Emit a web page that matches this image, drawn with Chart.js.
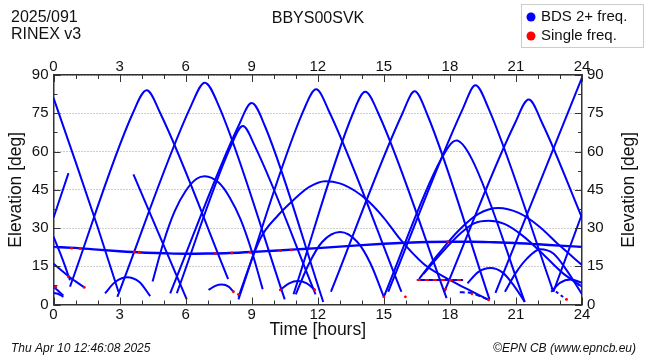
<!DOCTYPE html>
<html>
<head>
<meta charset="utf-8">
<script src="https://cdn.jsdelivr.net/npm/chart.js@4.4.1/dist/chart.umd.min.js"></script>
<style>
  body { margin: 0; background: #fff; }
  #wrap { width: 650px; height: 360px; }
</style>
</head>
<body>
<div id="wrap"><canvas id="elevChart" width="650" height="360"></canvas></div>
<script>
// axis ticks
const hourTicks = [0, 3, 6, 9, 12, 15, 18, 21, 24];
const elevTicks = [0, 15, 30, 45, 60, 75, 90];

// satellite tracks, [hour, elevation deg]
const geoTrack = [[0,22.6],[1,22.2],[2,21.5],[3,20.9],[4,20.4],[5,20.1],[6,19.9],[7,20],[8,20.2],[9,20.6],[10,21.1],[11,21.6],[12,22.1],[13,22.7],[14,23.3],[15,23.8],[16,24.2],[17,24.5],[18,24.6],[19,24.6],[20,24.4],[21,24.1],[22,23.6],[23,23.1],[24,22.6]];
const trk01 = [[0,81],[1,56],[2,30.5],[2.95,5]];
const trk02 = [[0,34],[0.68,51.5]];
const trk03 = [[0,26.6],[0.4,18],[0.75,9.5]];
const trk04 = [[0,16],[0.7,11],[1.4,6.7]];
const trk05 = [[0,7],[0.2,5.5],[0.45,3.5]];
const trk06 = [[0,4.5],[0.2,4.2],[0.45,3]];
const trk07 = [[0.75,7],[3.6,75],[4.23,84],[4.85,75],[7.93,10]];
const trk08 = [[2.9,3],[6.25,78],[6.87,87],[7.5,78],[10.5,2]];
const trk09 = [[5.3,4.4],[8.4,70],[9.0,79],[9.6,70],[12.25,1]];
const trk10 = [[5.6,4.4],[8.05,62],[8.6,70],[9.15,62],[11.9,4]];
const trk11 = [[4.5,9],[5.0,24.5],[5.5,36.5],[6.0,44.5],[6.5,49.3],[6.87,50.3],[7.5,47.8],[8.0,42],[8.5,33.3],[9.0,21],[9.5,6]];
const trk12 = [[8.4,3],[9.4,26],[10.2,35],[10.9,41],[11.6,46],[12.34,48.3],[13.0,47.5],[13.7,44.5],[14.3,40.5],[15.0,34],[15.75,25.5],[16.8,16],[17.8,10.5],[18.8,6],[19.76,1.8]];
const trk13 = [[11.0,4],[11.6,16],[12.2,24.5],[13.02,28.4],[13.8,24.5],[14.4,16],[15.0,3]];
const trk14 = [[8.4,2],[11.35,76],[11.93,84.4],[12.5,76],[15.8,5]];
const trk15 = [[10.9,4],[13.6,75],[14.16,83.4],[14.75,75],[17.85,2.5]];
const trk16 = [[12.6,5],[15.85,75],[16.4,83.6],[16.95,75],[19.8,2]];
const trk17 = [[15.0,3],[17.6,57],[18.3,64.3],[19.0,57],[21.4,1]];
const trk18 = [[15.2,5],[18.6,77],[19.16,86],[19.75,77],[22.7,5]];
const trk19 = [[17.75,5],[20.95,71],[21.58,80.4],[22.2,71],[24,34]];
const trk20 = [[20.07,4.6],[24,89]];
const trk21 = [[22.7,5],[24,35.5]];
const trk22 = [[16.6,10],[17.5,20],[18.4,29],[19.3,35.5],[20.2,37.8],[21.1,36],[22.0,31],[23.0,23],[24,15.5]];
const trk23 = [[16.8,12],[17.6,20],[18.5,28],[19.1,31.8],[19.76,32.8],[20.5,31.5],[21.3,27],[22.2,20],[23.1,12.5],[24,7]];
const trk24 = [[20.5,5],[21.0,12.5],[21.5,18],[22.1,21.7],[22.7,20],[23.3,13.5],[24,4]];
const trk25 = [[18.8,8.3],[19.3,12.8],[19.84,14.3],[20.4,12.5],[20.9,7.5],[21.4,1]];
const trk26 = [[2.34,4.4],[2.8,8.8],[3.33,10.7],[3.9,8.8],[4.39,3.3]];
const trk27 = [[7.04,5.7],[7.35,7.3],[7.64,7.8],[7.95,7],[8.17,5]];
const trk28 = [[10.3,5.7],[10.7,8.3],[11.1,9.2],[11.5,8.3],[11.9,5.5]];
const trk29 = [[22.6,5],[23.0,8.5],[23.5,9.8],[24,8.5]];
const trk30 = [[3.63,51],[6.05,2]];
const trk31 = [[16.5,9.6],[18.6,9.6]];
// broken (dashed) pieces
const gapTrk1 = [[18.45,4.8],[18.9,4.6],[19.3,3.5],[19.76,1.8]];
const gapTrk2 = [[22.6,6.5],[22.9,4.5],[23.3,2]];
// single frequency epochs
const singleDash = [[16.5,9.6],[18.6,9.6]];
const singleDots = [[0.1,6.8],[0.67,10.9],[1.4,6.7],[0.82,22.1],[1.2,21.9],[3.67,20.6],[3.9,20.5],[7.35,20],[8.1,20.2],[8.92,20.5],[8.17,5],[8.4,4],[10.3,5.7],[10.3,21.1],[10.8,21.4],[11.85,5.8],[15.0,3],[15.98,3],[17.8,6],[17.9,24.6],[19.0,4.2],[19.76,1.8],[23.3,2]];

const blueTracks = [trk01, trk02, trk03, trk04, trk05, trk06, trk07, trk08, trk09, trk10,
  trk11, trk12, trk13, trk14, trk15, trk16, trk17, trk18, trk19, trk20,
  trk21, trk22, trk23, trk24, trk25, trk26, trk27, trk28, trk29, trk30, trk31];

const BLUE = '#0000ff';
const RED = '#ff0000';

function toXY(pts) {
  return pts.map(p => ({ x: p[0], y: p[1] }));
}

function trackSet(pts, color, width, dash) {
  return {
    data: toXY(pts),
    showLine: true,
    borderColor: color,
    borderWidth: width,
    borderDash: dash || [],
    pointRadius: 0,
    cubicInterpolationMode: 'monotone',
    xAxisID: 'x',
    yAxisID: 'y'
  };
}

const datasets = [];
datasets.push(trackSet(geoTrack, BLUE, 2.4));
blueTracks.forEach(t => datasets.push(trackSet(t, BLUE, 2)));
datasets.push(trackSet(gapTrk1, BLUE, 2, [5, 3]));
datasets.push(trackSet(gapTrk2, BLUE, 2, [3, 3]));
// red marks go on top (lower order is drawn last)
const redDash = trackSet(singleDash, RED, 2, [4, 4]);
redDash.order = -1;
datasets.push(redDash);
datasets.push({
  data: toXY(singleDots),
  showLine: false,
  pointRadius: 1.4,
  pointBackgroundColor: RED,
  pointBorderWidth: 0,
  order: -2,
  xAxisID: 'x',
  yAxisID: 'y'
});

const FONT = '"Liberation Sans", Arial, sans-serif';

// inner tick marks, titles, legend and footer
const decorations = {
  id: 'decorations',
  afterDraw(chart) {
    const ctx = chart.ctx;
    const a = chart.chartArea;
    const xs = chart.scales.x;
    const ys = chart.scales.y;
    ctx.save();
    ctx.strokeStyle = '#333';
    ctx.lineWidth = 1;
    for (let h = 0; h <= 24; h++) {
      const px = Math.round(xs.getPixelForValue(h)) + 0.5;
      const len = h % 3 === 0 ? 7 : 4;
      ctx.beginPath();
      ctx.moveTo(px, a.bottom); ctx.lineTo(px, a.bottom - len);
      ctx.moveTo(px, a.top); ctx.lineTo(px, a.top + len);
      ctx.stroke();
    }
    for (let e = 0; e <= 90; e += 7.5) {
      const py = Math.round(ys.getPixelForValue(e)) + 0.5;
      const len = e % 15 === 0 ? 7 : 4;
      ctx.beginPath();
      ctx.moveTo(a.left, py); ctx.lineTo(a.left + len, py);
      ctx.moveTo(a.right, py); ctx.lineTo(a.right - len, py);
      ctx.stroke();
    }

    ctx.fillStyle = '#111';
    ctx.textBaseline = 'middle';
    ctx.font = '16px ' + FONT;
    ctx.textAlign = 'left';
    ctx.fillText('2025/091', 11, 18);
    ctx.fillText('RINEX v3', 11, 35);
    ctx.textAlign = 'center';
    ctx.fillText('BBYS00SVK', 318, 19);

    ctx.font = '17.5px ' + FONT;
    ctx.fillText('Time [hours]', (a.left + a.right) / 2, 330);
    const midY = (a.top + a.bottom) / 2;
    [16, 629].forEach(cx => {
      ctx.save();
      ctx.translate(cx, midY);
      ctx.rotate(-Math.PI / 2);
      ctx.fillText('Elevation [deg]', 0, 0);
      ctx.restore();
    });

    // legend
    ctx.fillStyle = '#fff';
    ctx.fillRect(521.5, 4.5, 122, 43);
    ctx.strokeStyle = '#ccc';
    ctx.strokeRect(521.5, 4.5, 122, 43);
    [[BLUE, 'BDS 2+ freq.', 17], [RED, 'Single freq.', 36]].forEach(item => {
      ctx.fillStyle = item[0];
      ctx.beginPath();
      ctx.arc(531, item[2], 4.5, 0, Math.PI * 2);
      ctx.fill();
      ctx.fillStyle = '#111';
      ctx.textAlign = 'left';
      ctx.font = '15px ' + FONT;
      ctx.fillText(item[1], 541, item[2]);
    });

    ctx.font = 'italic 12px ' + FONT;
    ctx.textAlign = 'left';
    ctx.fillText('Thu Apr 10 12:46:08 2025', 11, 349);
    ctx.textAlign = 'right';
    ctx.fillText('\u00A9EPN CB (www.epncb.eu)', 636, 349);
    ctx.restore();
  }
};

const tickFont = { family: FONT, size: 15 };
function hourAxis(pos) {
  return {
    type: 'linear', position: pos, min: 0, max: 24,
    afterBuildTicks: s => { s.ticks = hourTicks.map(v => ({ value: v })); },
    ticks: { font: tickFont, color: '#111', padding: pos === 'top' ? -1 : 1, maxRotation: 0 },
    grid: { display: false, drawTicks: false },
    border: { display: true, color: '#333', width: 1.5 },
    afterFit: s => { s.height = pos === 'top' ? 75 : 55.5; }
  };
}
function elevAxis(pos) {
  return {
    type: 'linear', position: pos, min: 0, max: 90,
    afterBuildTicks: s => { s.ticks = elevTicks.map(v => ({ value: v })); },
    ticks: { font: tickFont, color: '#111', padding: 5 },
    grid: { display: pos === 'left', drawTicks: false, color: '#9a9a9a', lineWidth: 1 },
    border: { display: true, color: '#333', width: 1.5, dash: [1, 2] },
    afterFit: s => { s.width = pos === 'left' ? 53.5 : 68; }
  };
}

new Chart(document.getElementById('elevChart').getContext('2d'), {
  type: 'scatter',
  data: { datasets: datasets },
  options: {
    responsive: false,
    animation: false,
    devicePixelRatio: 1,
    layout: { padding: 0 },
    plugins: { legend: { display: false }, tooltip: { enabled: false } },
    scales: {
      x: hourAxis('bottom'),
      x2: hourAxis('top'),
      y: elevAxis('left'),
      y2: elevAxis('right')
    }
  },
  plugins: [decorations]
});
</script>
</body>
</html>
